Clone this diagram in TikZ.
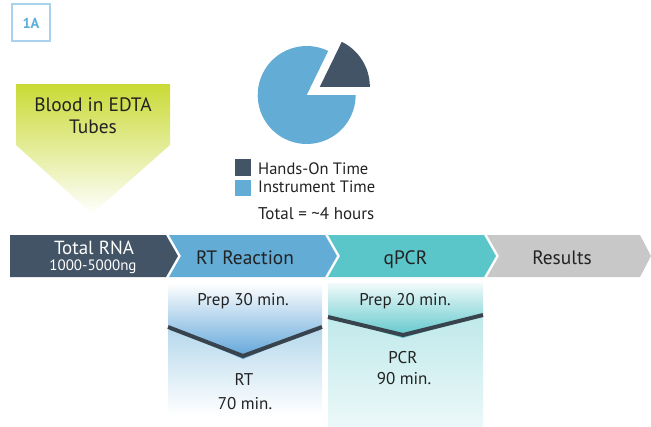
\documentclass[tikz,border=0pt]{standalone}
\usepackage{fontspec}
\setmainfont{PT Sans}
\definecolor{slate}{HTML}{435466}
\definecolor{pieblue}{HTML}{62ACD6}
\definecolor{tealc}{HTML}{5BC6CA}
\definecolor{greyc}{HTML}{C8C8C8}
\definecolor{lime}{HTML}{C9DA35}
\definecolor{vline}{HTML}{38434E}
\definecolor{txt}{HTML}{222222}
\definecolor{labblue}{HTML}{5AAEDC}
\definecolor{labframe}{HTML}{A8D2EE}
\begin{document}
\begin{tikzpicture}[x=1pt,y=-1pt,
  every node/.style={inner sep=0pt, text=txt, anchor=base},
  big/.style={font=\fontsize{19.4}{21}\selectfont},
  mtxt/.style={font=\fontsize{17}{19}\selectfont},
  legtxt/.style={font=\fontsize{16.5}{18}\selectfont},
  vstroke/.style={draw=vline, line width=4pt},
]
\useasboundingbox (0,0) rectangle (651,426);

% 1A label
\draw[labframe, line width=1.4pt] (12,4) rectangle (50,41);
\node[font=\bfseries\fontsize{14.5}{16}\selectfont, text=labblue] (lab) at (31,28.3) {1A};

% Blood pentagon
\shade[top color=lime, bottom color=white] (16,84) -- (170,84) -- (170,145) -- (92,214) -- (16,145) -- cycle;
\node[big] (blood) at (93,111.5) {Blood in EDTA};
\node[big] (tubes) at (93,133) {Tubes};

% Pie
\begin{scope}[shift={(306.7,95)}, y=1pt]
  \fill[pieblue] (0,0) -- (64:49) arc[start angle=64, end angle=360, radius=49] -- cycle;
  \fill[slate] (32:15.5) -- ++(0:50) arc[start angle=0, end angle=64, radius=50] -- cycle;
\end{scope}

% Legend
\fill[slate] (235,159) rectangle (251,176);
\fill[pieblue] (235,180) rectangle (251,196);
\node[legtxt, anchor=base west] (hands) at (258,174) {Hands-On Time};
\node[legtxt, anchor=base west] (instr) at (258,192.7) {Instrument Time};
\node[font=\fontsize{17}{19}\selectfont, anchor=base west] (total) at (258,219) {Total = \textasciitilde 4 hours};

% Chevrons
\fill[slate] (10,235) -- (166,235) -- (178,256) -- (166,277) -- (10,277) -- cycle;
\fill[pieblue] (169,235) -- (325,235) -- (337,256) -- (325,277) -- (169,277) -- (181,256) -- cycle;
\fill[tealc] (328,235) -- (484,235) -- (496,256) -- (484,277) -- (328,277) -- (340,256) -- cycle;
\fill[greyc] (487,235) -- (640,235) -- (651,256) -- (640,277) -- (487,277) -- (499,256) -- cycle;
\node[font=\fontsize{19}{21}\selectfont, text=white] (rna) at (94,254) {Total RNA};
\node[font=\fontsize{15}{17}\selectfont, text=white] (ng) at (93,270.7) {1000-5000ng};
\node[big] (rt) at (245,264.3) {RT Reaction};
\node[big] (qpcr) at (405.5,264.3) {qPCR};
\node[big] (res) at (562,264.3) {Results};

% RT box
\shade[top color=pieblue!45, bottom color=white] (168,330) rectangle (322,416);
\shade[top color=white, bottom color=pieblue!95!blue] (168,283) -- (322,283) -- (322,327) -- (243,359) -- (168,327) -- cycle;
\draw[vstroke] (168,327) -- (243,356) -- (322,327);
\node[mtxt] (prep1) at (243,305) {Prep 30 min.};
\node[mtxt] (rtt) at (244,385) {RT};
\node[mtxt] (rtmin) at (245,409) {70 min.};

% qPCR box
\shade[top color=tealc!40, bottom color=tealc!12] (328,310) rectangle (483,426);
\shade[top color=tealc!8, bottom color=tealc] (328,283) -- (483,283) -- (483,315) -- (403,338) -- (328,317) -- cycle;
\draw[vstroke] (328,317) -- (403,335) -- (483,315);
\node[mtxt] (prep2) at (405,305) {Prep 20 min.};
\node[mtxt] (pcr) at (403,363.3) {PCR};
\node[mtxt] (pcrmin) at (404,384) {90 min.};
\end{tikzpicture}
\end{document}
